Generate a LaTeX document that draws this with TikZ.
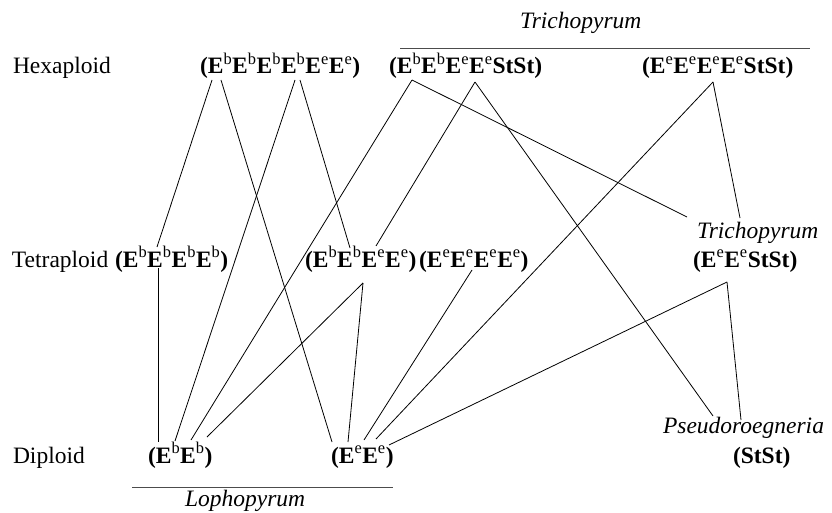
\documentclass[tikz,border=0pt]{standalone}
\usepackage{fontspec}
\setmainfont{Liberation Serif}
\newcommand\gsup[1]{\textsuperscript{\mdseries #1}}
\newcommand\Eb{E\gsup{b}}
\newcommand\Ee{E\gsup{e}}
\begin{document}
\begin{tikzpicture}[x=1pt,y=-1pt,
  every node/.style={inner sep=0pt,outer sep=0pt,anchor=base west,font=\fontsize{23.5}{28}\selectfont},
  level/.style={},
  genome/.style={font=\fontsize{23.5}{28}\selectfont\bfseries},
  taxon/.style={font=\fontsize{23.5}{28}\selectfont\itshape},
  link/.style={line width=0.8pt},
  rule/.style={line width=0.6pt,draw=black!70}]
\useasboundingbox (0,0) rectangle (832,513);

% ploidy levels
\node[level] (lhex) at (13,74) {Hexaploid};
\node[level] (ltet) at (12,267) {Tetraploid};
\node[level] (ldip) at (13,463) {Diploid};

% hexaploids
\node[genome] (h1) at (200,74) {(\Eb\Eb\Eb\Eb\Ee\Ee)};
\node[genome] (h2) at (389,74) {(\Eb\Eb\Ee\Ee StSt)};
\node[genome] (h3) at (642,74) {(\Ee\Ee\Ee\Ee StSt)};

% tetraploids
\node[genome] (t1) at (115,267) {(\Eb\Eb\Eb\Eb)};
\node[genome] (t2) at (305,267) {(\Eb\Eb\Ee\Ee)};
\node[genome] (t3) at (419,267) {(\Ee\Ee\Ee\Ee)};
\node[taxon]  (t4n) at (697,238) {Trichopyrum};
\node[genome] (t4) at (693,267) {(\Ee\Ee StSt)};

% diploids
\node[genome] (d1) at (148,463) {(\Eb\Eb)};
\node[genome] (d2) at (331,463) {(\Ee\Ee)};
\node[taxon]  (d3n) at (663,433) {Pseudoroegneria};
\node[genome] (d3) at (733,463) {(StSt)};

% genus brackets
\node[taxon] (gtri) at (520,29) {Trichopyrum};
\coordinate (tril) at (400,48);
\coordinate (trir) at (810,48);
\draw[rule] (tril) -- (trir);
\node[taxon] (glop) at (185,506) {Lophopyrum};
\coordinate (lopl) at (132,487);
\coordinate (lopr) at (393,487);
\draw[rule] (lopl) -- (lopr);

% attachment points
\coordinate (h1a) at (212,80);
\coordinate (h1b) at (221,80);
\coordinate (h1c) at (295,80);
\coordinate (h1d) at (300,80);
\coordinate (h2a) at (412,80);
\coordinate (h2b) at (475,82);
\coordinate (h3a) at (713,82);
\coordinate (t1u) at (157,247);
\coordinate (t1d) at (158,268);
\coordinate (t2u) at (350,248);
\coordinate (t2v) at (376,246);
\coordinate (t2d) at (363,283);
\coordinate (t3d) at (472,270);
\coordinate (t4u) at (687,217);
\coordinate (t4v) at (740,218);
\coordinate (t4d) at (727,282);
\coordinate (d1a) at (158,442);
\coordinate (d1b) at (175,441);
\coordinate (d1c) at (191,440);
\coordinate (d1d) at (207,437);
\coordinate (d2a) at (332,442);
\coordinate (d2b) at (348,442);
\coordinate (d2c) at (364,440);
\coordinate (d2d) at (376,439);
\coordinate (d2e) at (389,445);
\coordinate (d3a) at (713,416);
\coordinate (d3b) at (741,420);

% origins
\draw[link] (h1a) -- (t1u);
\draw[link] (h1b) -- (d2a);
\draw[link] (h1c) -- (d1b);
\draw[link] (h1d) -- (t2u);
\draw[link] (h2a) -- (d1c);
\draw[link] (h2a) -- (t4u);
\draw[link] (h2b) -- (t2v);
\draw[link] (h2b) -- (d3a);
\draw[link] (h3a) -- (d2d);
\draw[link] (h3a) -- (t4v);
\draw[link] (t1d) -- (d1a);
\draw[link] (t2d) -- (d1d);
\draw[link] (t2d) -- (d2b);
\draw[link] (t3d) -- (d2c);
\draw[link] (t4d) -- (d2e);
\draw[link] (t4d) -- (d3b);
\end{tikzpicture}
\end{document}
